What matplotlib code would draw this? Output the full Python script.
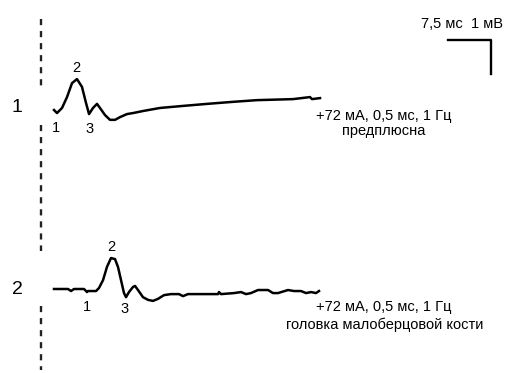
import matplotlib
matplotlib.use("Agg")
from matplotlib import pyplot as plt

W, H = 505, 373
DPI = 100
PX_PER_MS = 43 / 7.5
PX_PER_MV = 34.0
X0_PX = 54  # trace start, px

plt.rcParams["font.family"] = ["Liberation Sans", "DejaVu Sans"]

# trace 1 (ms, mV)
t1 = [0, 0.52, 1.40, 2.27, 3.14, 4.01, 4.88, 5.58, 6.11, 6.80, 7.50, 8.02, 8.90, 9.77,
      10.64, 11.51, 12.73, 13.78, 15.52, 18.49, 22.50, 26.69, 31.22, 35.41, 41.69, 44.65,
      45.00, 46.40]
v1 = [0, -0.09, 0.06, 0.38, 0.79, 0.91, 0.68, 0.21, -0.12, 0.06, 0.18, 0.06, -0.15, -0.29,
      -0.29, -0.21, -0.12, -0.09, -0.03, 0.06, 0.12, 0.18, 0.24, 0.29, 0.32, 0.38,
      0.32, 0.35]

# trace 2 (ms, mV)
t2 = [0, 2.44, 2.97, 3.49, 5.23, 5.76, 5.93, 7.33, 7.85, 8.55, 9.24, 9.94, 10.64, 11.16,
      11.69, 12.21, 12.56, 13.08, 13.78, 14.13, 14.65, 15.52, 16.40, 17.27, 18.14, 19.19,
      20.41, 21.80, 22.50, 23.37, 25.64, 28.61, 28.78, 29.13, 31.40, 32.62, 33.49, 34.36,
      35.58, 37.33, 38.20, 39.07, 40.82, 41.86, 43.08, 43.96, 44.83, 45.70, 46.22]
v2 = [0, 0, -0.06, 0, 0, -0.09, -0.06, -0.06, 0.03, 0.26, 0.65, 0.91, 0.88, 0.65,
      0.26, -0.12, -0.24, -0.09, 0.06, 0.09, -0.03, -0.24, -0.32, -0.35, -0.29, -0.18,
      -0.15, -0.15, -0.21, -0.15, -0.15, -0.15, -0.09, -0.15, -0.12, -0.09, -0.15, -0.12,
      -0.03, -0.03, -0.12, -0.12, -0.03, -0.06, -0.06, -0.12, -0.09, -0.12, -0.06]

trace_labels = ["1", "2"]
stim_text = "+72 мА, 0,5 мс, 1 Гц"
sites = ["предплюсна", "головка малоберцовой кости"]
scale_ms, scale_mv = 7.5, 1
scale_text = "7,5 мс  1 мВ"


def px(x, y):
    return x / W, 1 - y / H


def to_ms(x):
    return (x - X0_PX) / PX_PER_MS


def to_mv(y):
    return (H - y) / PX_PER_MV


fig = plt.figure(figsize=(W / DPI, H / DPI), dpi=DPI)
ax = fig.add_axes([0, 0, 1, 1])
ax.set_xlim(to_ms(0), to_ms(W))
ax.set_ylim(0, H / PX_PER_MV)
ax.axis("off")

# traces
off1, off2 = to_mv(110), to_mv(289)
ax.plot(t1, [v + off1 for v in v1], color="black", lw=1.8)
ax.plot(t2, [v + off2 for v in v2], color="black", lw=1.8)

# dashed marker line
for y0, y1 in [(19, 88), (125, 251), (306, 370)]:
    ax.plot([to_ms(41)] * 2, [to_mv(y0), to_mv(y1)], color="#222222", lw=1.7,
            linestyle=(0, (2.6, 2.5)))

# scale bar
cx, cy = to_ms(491), to_mv(40)
ax.plot([cx - scale_ms, cx, cx], [cy, cy, cy - scale_mv], color="black", lw=1.7)
fig.text(*px(503, 24), scale_text, ha="right", va="center", fontsize=10.5)

# trace labels
for lab, y in zip(trace_labels, [107, 290]):
    fig.text(*px(17, y), lab, ha="center", va="center", fontsize=14)

# peak labels
for (x, y), lab in zip([(56, 128), (76, 68), (90, 129)], ["1", "2", "3"]):
    fig.text(*px(x, y), lab, ha="center", va="center", fontsize=10.5)
for (x, y), lab in zip([(87, 307), (111, 247), (125, 309)], ["1", "2", "3"]):
    fig.text(*px(x, y), lab, ha="center", va="center", fontsize=10.5)

# stimulus info
fig.text(*px(384, 116), stim_text, ha="center", va="center", fontsize=10.5)
fig.text(*px(384, 131), sites[0], ha="center", va="center", fontsize=10.5)
fig.text(*px(384, 307), stim_text, ha="center", va="center", fontsize=10.5)
fig.text(*px(483, 325), sites[1], ha="right", va="center", fontsize=10.5)

fig.savefig("out.png", dpi=DPI)
